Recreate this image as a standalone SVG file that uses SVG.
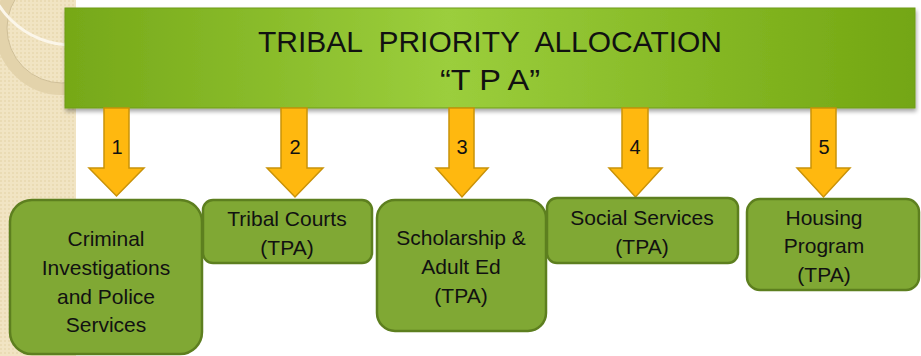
<svg xmlns="http://www.w3.org/2000/svg" width="921" height="356" viewBox="0 0 921 356">
  <style>
    .box { fill: #80a834; stroke: #5d7f1f; stroke-width: 2.5; }
    .lbl { font-family: "Liberation Sans", Arial, sans-serif; font-size: 21px; fill: #111; text-anchor: middle; }
    .num { font-family: "Liberation Sans", Arial, sans-serif; font-size: 20px; fill: #111; text-anchor: middle; }
    .title { font-family: "Liberation Sans", Arial, sans-serif; font-size: 30px; fill: #111; text-anchor: middle; white-space: pre; }
    .arrow { fill: #ffb80f; stroke: #c99208; stroke-width: 1.5; stroke-linejoin: miter; }
  </style>
  <defs>
    <linearGradient id="bannerFill" x1="0" y1="0" x2="1" y2="0">
      <stop offset="0" stop-color="#76a818"/>
      <stop offset="0.45" stop-color="#9bce3c"/>
      <stop offset="1" stop-color="#73a612"/>
    </linearGradient>
    <pattern id="weave" width="4" height="4" patternUnits="userSpaceOnUse">
      <rect width="4" height="4" fill="#f1e4c3"/>
      <rect width="2" height="2" fill="#eadbb4"/>
    </pattern>
    <filter id="shadow" x="-5%" y="-10%" width="110%" height="130%">
      <feGaussianBlur in="SourceAlpha" stdDeviation="2"/>
      <feOffset dx="1" dy="3"/>
      <feComponentTransfer><feFuncA type="linear" slope="0.35"/></feComponentTransfer>
      <feMerge><feMergeNode/><feMergeNode in="SourceGraphic"/></feMerge>
    </filter>
    <clipPath id="strip"><rect x="0" y="0" width="76" height="356"/></clipPath>
  </defs>

  <rect width="921" height="356" fill="#ffffff"/>

  <!-- decorative side strip -->
  <g clip-path="url(#strip)">
    <rect x="0" y="0" width="76" height="356" fill="url(#weave)"/>
    <circle cx="62" cy="28" r="61" fill="none" stroke="#e3d3ab" stroke-width="12"/>
    <circle cx="62" cy="28" r="55" fill="none" stroke="#cfbf98" stroke-width="1"/>
    <circle cx="72" cy="-42" r="87" fill="none" stroke="#fbf6ea" stroke-width="3"/>
  </g>

  <!-- header -->
  <g id="tpa">
    <rect x="65" y="8" width="850" height="100" fill="url(#bannerFill)" stroke="#6f9c18" stroke-width="1" filter="url(#shadow)"/>
    <text class="title" x="490" y="52" textLength="464" lengthAdjust="spacingAndGlyphs" xml:space="preserve">TRIBAL  PRIORITY  ALLOCATION</text>
    <text class="title" x="490" y="90" textLength="100" lengthAdjust="spacingAndGlyphs">“T P A”</text>
  </g>

  <!-- connectors -->
  <g id="connectors">
    <polygon class="arrow" points="104,108 129,108 129,168 144,168 116.5,196 89,168 104,168"/>
    <text class="num" x="117" y="154">1</text>
    <polygon class="arrow" points="281,108 307,108 307,168 323,168 295,197 267,168 281,168"/>
    <text class="num" x="295" y="154">2</text>
    <polygon class="arrow" points="449,108 474,108 474,168 488,168 462,197 436,168 449,168"/>
    <text class="num" x="462" y="154">3</text>
    <polygon class="arrow" points="622,108 648,108 648,168 662,168 635.5,197 609,168 622,168"/>
    <text class="num" x="635" y="154">4</text>
    <polygon class="arrow" points="811,108 836,108 836,168 850,168 823.5,197 797,168 811,168"/>
    <text class="num" x="824" y="154">5</text>
  </g>

  <!-- services -->
  <g id="criminal">
    <rect class="box" x="10" y="200" width="192" height="154" rx="22"/>
    <text class="lbl" x="106" y="246">Criminal</text>
    <text class="lbl" x="106" y="275">Investigations</text>
    <text class="lbl" x="106" y="304">and Police</text>
    <text class="lbl" x="106" y="332">Services</text>
  </g>
  <g id="courts">
    <rect class="box" x="203" y="200" width="169" height="63" rx="10"/>
    <text class="lbl" x="287" y="226">Tribal Courts</text>
    <text class="lbl" x="287" y="255">(TPA)</text>
  </g>
  <g id="scholarship">
    <rect class="box" x="377" y="200" width="169" height="131" rx="18"/>
    <text class="lbl" x="461" y="245">Scholarship &amp;</text>
    <text class="lbl" x="461" y="274">Adult Ed</text>
    <text class="lbl" x="461" y="303">(TPA)</text>
  </g>
  <g id="social">
    <rect class="box" x="547" y="198" width="191" height="65" rx="10"/>
    <text class="lbl" x="642" y="225">Social Services</text>
    <text class="lbl" x="642" y="254">(TPA)</text>
  </g>
  <g id="housing">
    <rect class="box" x="747" y="199" width="172" height="91" rx="13"/>
    <text class="lbl" x="824" y="225">Housing</text>
    <text class="lbl" x="824" y="253">Program</text>
    <text class="lbl" x="824" y="282">(TPA)</text>
  </g>
</svg>
